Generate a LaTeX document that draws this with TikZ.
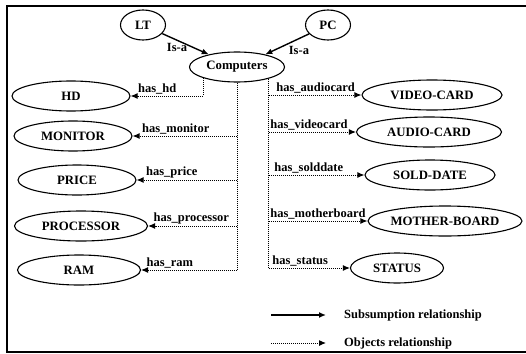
\documentclass[tikz,border=0pt]{standalone}
\usepackage{fontspec}
\setmainfont{Liberation Serif}
\usetikzlibrary{shapes.geometric,arrows.meta}
\definecolor{negroM}{HTML}{000000}

\begin{document}
\begin{tikzpicture}[x=1pt,y=-1pt,
    concepto/.style={ellipse,draw=negroM,line width=1.1pt,inner sep=0pt,minimum height=30pt,font=\bfseries\fontsize{12.8}{15}\selectfont},
    isa/.style={negroM,line width=1.4pt,-{Latex[length=7pt,width=6pt]}},
    punteado/.style={negroM,line width=1pt,dash pattern=on 1pt off 1pt},
    tiene/.style={punteado,-{Latex[length=7pt,width=6pt]}},
    etiq/.style={font=\bfseries\fontsize{12.5}{14}\selectfont,inner sep=1pt}]
          \useasboundingbox (0,0) rectangle (526,353);
          \draw[negroM,line width=2.5pt] (526,6) -- (7,6) -- (7,352) -- (526,352);
          \node[concepto,minimum width=45pt] (lt) at (143,25) {LT};
          \node[concepto,minimum width=45pt] (pc) at (328,25) {PC};
          \node[concepto,minimum width=95pt] (comp) at (237,67) {Computers};
          \node[concepto,minimum width=118pt] (hd) at (71,96) {HD};
          \node[concepto,minimum width=118pt] (monitor) at (73,136) {MONITOR};
          \node[concepto,minimum width=118pt] (price) at (77,180) {PRICE};
          \node[concepto,minimum width=133pt] (processor) at (81,226) {PROCESSOR};
          \node[concepto,minimum width=123pt] (ram) at (79,270) {RAM};
          \node[concepto,minimum width=140pt] (videocard) at (432,95) {VIDEO-CARD};
          \node[concepto,minimum width=145pt] (audiocard) at (429,132) {AUDIO-CARD};
          \node[concepto,minimum width=130pt] (solddate) at (430,175) {SOLD-DATE};
          \node[concepto,minimum width=154pt] (motherboard) at (445,221) {MOTHER-BOARD};
          \node[concepto,minimum width=93pt] (status) at (397,268) {STATUS};
          \draw[isa] (lt) -- (comp.156);
          \node[etiq] (isalt) at (177,47) {Is-a};
          \draw[isa] (pc) -- (comp.24) node[etiq,midway,below right] {Is-a};
          \coordinate (ltr) at (comp.south);
          \coordinate (rtr) at (comp.-20);
          \draw[punteado] (ltr) -- (ltr |- ram);
          \draw[punteado] (rtr) -- (rtr |- status);
          \draw[tiene] (comp.198) |- (hd) node[etiq,pos=1,above right,xshift=6pt] {has\_hd};
          \draw[tiene] (ltr |- monitor) -- (monitor) node[etiq,pos=1,above right,xshift=8pt] {has\_monitor};
          \draw[tiene] (ltr |- price) -- (price) node[etiq,pos=1,above right,xshift=8pt] {has\_price};
          \draw[tiene] (ltr |- processor) -- (processor) node[etiq,pos=1,above right,xshift=4pt] {has\_processor};
          \draw[tiene] (ltr |- ram) -- (ram) node[etiq,pos=1,above right,xshift=4pt] {has\_ram};
          \draw[tiene] (rtr |- videocard) -- (videocard) node[etiq,pos=0,above right,xshift=6pt] {has\_audiocard};
          \draw[tiene] (rtr |- audiocard) -- (audiocard) node[etiq,pos=0,above right] {has\_videocard};
          \draw[tiene] (rtr |- solddate) -- (solddate) node[etiq,pos=0,above right,xshift=4pt] {has\_solddate};
          \draw[tiene] (rtr |- motherboard) -- (motherboard) node[etiq,pos=0,above right] {has\_motherboard};
          \draw[tiene] (rtr |- status) -- (status) node[etiq,pos=0,above right,xshift=2pt] {has\_status};
          \coordinate (sub1) at (271,315);
          \coordinate (sub2) at (326,315);
          \draw[isa] (sub1) -- (sub2);
          \node[etiq,anchor=west] (subtxt) at (343,315) {Subsumption relationship};
          \coordinate (obj1) at (271,343);
          \coordinate (obj2) at (326,343);
          \draw[tiene] (obj1) -- (obj2);
          \node[etiq,anchor=west] (objtxt) at (343,343) {Objects relationship};
        \end{tikzpicture}
\end{document}
